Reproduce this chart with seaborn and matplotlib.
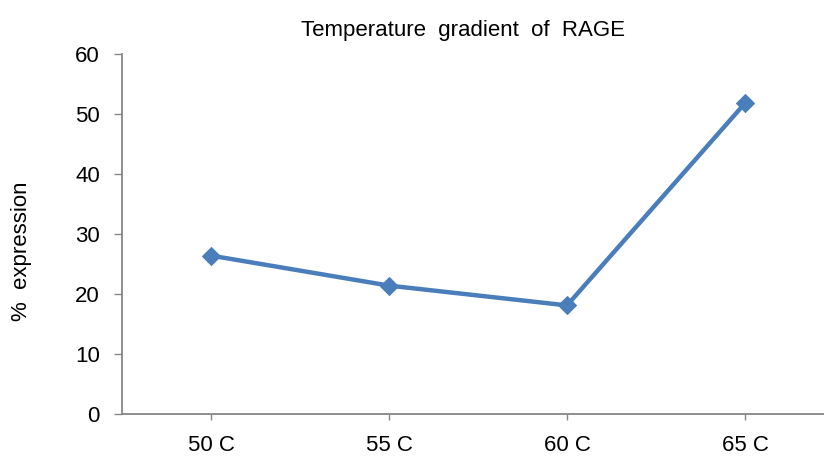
import matplotlib
matplotlib.use("Agg")
import matplotlib.pyplot as plt
import seaborn as sns
import pandas as pd

categories = ["50 C", "55 C", "60 C", "65 C"]
expression = [26.4, 21.4, 18.1, 51.8]
y_ticks = [0, 10, 20, 30, 40, 50, 60]

sns.set_style("white")
plt.rcParams['font.family'] = ['Liberation Sans', 'DejaVu Sans']
plt.rcParams['text.color'] = 'black'
plt.rcParams['axes.labelcolor'] = 'black'
plt.rcParams['xtick.color'] = 'black'
plt.rcParams['ytick.color'] = 'black'

df = pd.DataFrame({"temp": categories, "pct": expression})
df["pos"] = range(len(categories))

fig = plt.figure(figsize=(8.24, 4.58), dpi=100)
ax = fig.add_axes([122/824, (458-414)/458, (834-122)/824, (414-54)/458])

sns.lineplot(data=df, x="pos", y="pct", ax=ax, color="#4A7EBB", linewidth=3.2,
             marker="D", markersize=9.5, markeredgecolor="#4A7EBB", sort=False)

ax.set_xlim(-0.5, 3.5)
ax.set_ylim(0, 60)
ax.set_xticks(range(len(categories)))
ax.set_xticklabels(categories)
ax.set_yticks(y_ticks)
ax.set_xlabel("")
ax.set_ylabel("%  expression", fontsize=16, color="black")
ax.yaxis.set_label_coords((32 - 122) / 712, (414 - 251) / 360)
ax.set_title("Temperature  gradient  of  RAGE", fontsize=16, pad=13, color="black",
             x=(463 - 122) / 712)

for s in ["top", "right"]:
    ax.spines[s].set_visible(False)
for s in ["left", "bottom"]:
    ax.spines[s].set_color("#868686")
    ax.spines[s].set_linewidth(1.3)
ax.tick_params(axis="y", which="both", left=True, length=6, width=1, color="#868686",
               labelcolor="black", labelsize=16, pad=10, direction="out")
ax.tick_params(axis="x", which="both", bottom=True, length=4, width=1, color="#868686",
               labelcolor="black", labelsize=16, pad=11, direction="out")
ax.grid(False)

fig.savefig("out.png", dpi=100)
